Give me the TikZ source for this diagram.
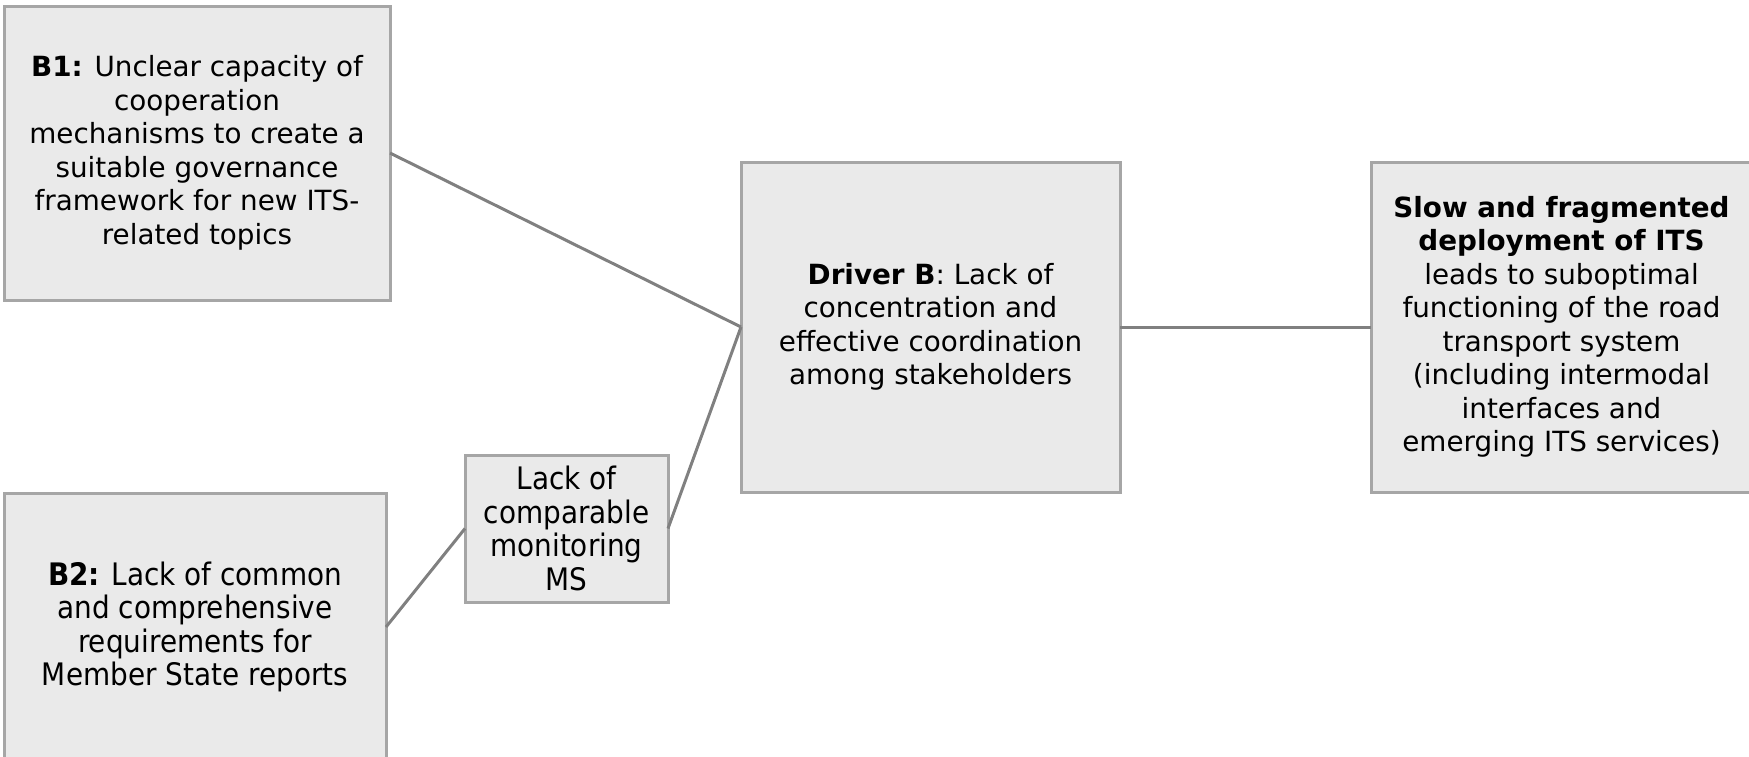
\documentclass[tikz,border=0pt]{standalone}
\usepackage{fontspec}
\setmainfont{DejaVu Sans}
\newfontfamily\narrowfont[FakeStretch=0.9]{DejaVu Sans}
\definecolor{boxfill}{HTML}{EAEAEA}
\definecolor{boxline}{HTML}{A6A6A6}
\definecolor{conn}{HTML}{808080}
\tikzset{
  box/.style={draw=boxline, fill=boxfill, line width=3pt, align=center, inner sep=0pt, outer sep=0pt,
    font=\fontsize{27.8}{33.5}\selectfont, text=black},
  narrowbox/.style={box, font=\narrowfont\fontsize{31}{33.5}\selectfont},
  link/.style={draw=conn, line width=3pt}
}
\begin{document}
\begin{tikzpicture}[x=1pt,y=-1pt]
\useasboundingbox (0,0) rectangle (1749,756);
\clip (0,0) rectangle (1749,756);
\node[box, minimum width=386pt, minimum height=294pt] (b1) at (197,153)
  {\textbf{B1:} Unclear capacity of\\cooperation\\mechanisms to create a\\suitable governance\\framework for new ITS-\\related topics};
\node[narrowbox, minimum width=382pt, minimum height=268pt] (b2) at (195,627)
  {\textbf{B2:} Lack of common\\and comprehensive\\requirements for\\Member State reports};
\node[narrowbox, minimum width=203pt, minimum height=147pt] (lack) at (566.5,528.5)
  {Lack of\\comparable\\monitoring\\MS};
\node[box, minimum width=379pt, minimum height=330pt] (drv) at (930.5,327)
  {\textbf{Driver B}: Lack of\\concentration and\\effective coordination\\among stakeholders};
\node[box, minimum width=381pt, minimum height=330pt] (slow) at (1561.5,327)
  {\textbf{Slow and fragmented}\\\textbf{deployment of ITS}\\leads to suboptimal\\functioning of the road\\transport system\\(including intermodal\\interfaces and\\emerging ITS services)};
\draw[link] (b1.east) -- (drv.west);
\draw[link] (b2.east) -- (lack.west);
\draw[link] (lack.east) -- (drv.west);
\draw[link] (drv.east) -- (slow.west);
\end{tikzpicture}
\end{document}
